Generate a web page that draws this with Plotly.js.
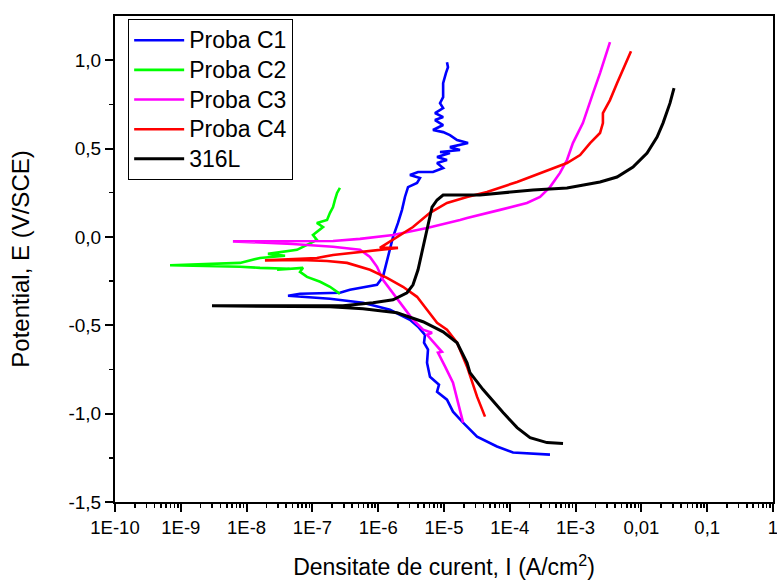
<!DOCTYPE html>
<html>
<head>
<meta charset="utf-8">
<script src="https://cdn.plot.ly/plotly-3.0.1.min.js"></script>
<style>html,body{margin:0;padding:0;background:#fff;}#chart{width:777px;height:581px;}</style>
</head>
<body>
<div id="chart"></div>
<script>
// Current density (A/cm2) and potential (V/SCE)
var c1_I = [4.08e-4,1.12e-4,6.38e-5,3.18e-5,1.95e-5,1.37e-5,1.11e-5,7.84e-6,8.4e-6,6.12e-6,5.52e-6,5.71e-6,4.97e-6,5.14e-6,4.03e-6,3.04e-6,1.51e-6,5.87e-7,1.85e-7,6.49e-8,4.26e-8,
  6.49e-8,2.62e-7,3.72e-7,9.6e-7,1.18e-6,1.36e-6,1.51e-6,1.68e-6,2.0e-6,2.3e-6,2.55e-6,2.84e-6,3.89e-6,4.31e-6,3.04e-6,4.03e-6,6.8e-6,9.7e-6,7.84e-6,1.11e-5,7.84e-6,1.23e-5,8.7e-6,1.75e-5,1.23e-5,2.32e-5,1.58e-5,1.23e-5,9.7e-6,6.8e-6,9.7e-6,7.3e-6,9.7e-6,7.3e-6,9.7e-6,8.7e-6,9.7e-6,9.7e-6,1.07e-5,1.15e-5,1.11e-5];
var c1_E = [-1.232,-1.220,-1.186,-1.130,-1.051,-0.989,-0.921,-0.876,-0.836,-0.791,-0.712,-0.638,-0.599,-0.554,-0.508,-0.469,-0.412,-0.373,-0.350,-0.339,-0.333,
  -0.322,-0.316,-0.299,-0.271,-0.226,-0.141,-0.073,0.0,0.079,0.153,0.226,0.282,0.305,0.333,0.350,0.367,0.367,0.390,0.418,0.435,0.452,0.475,0.480,0.492,0.508,0.531,0.548,0.576,0.593,0.605,0.633,0.661,0.678,0.701,0.729,0.757,0.791,0.870,0.927,0.960,0.989];

var c2_I = [2.62e-7,1.85e-7,1.31e-7,8.28e-8,6.49e-8,7.2e-8,2.9e-8,4.5e-8,1.6e-8,7.94e-9,6.86e-10,
  7.94e-9,1.6e-8,3.84e-8,2.11e-8,5.83e-8,8.28e-8,1.17e-7,1.02e-7,1.45e-7,1.17e-7,1.67e-7,1.85e-7,2.06e-7,2.2e-7,2.37e-7,2.62e-7];
var c2_E = [-0.322,-0.282,-0.254,-0.226,-0.198,-0.175,-0.186,-0.180,-0.175,-0.169,-0.160,
  -0.147,-0.119,-0.107,-0.096,-0.073,-0.045,-0.017,0.011,0.056,0.079,0.096,0.136,0.169,0.209,0.249,0.277];

var c3_I = [1.95e-5,1.63e-5,1.37e-5,1.04e-5,8.1e-6,9.3e-6,6.8e-6,5.52e-6,6.58e-6,4.8e-6,3.38e-6,2.38e-6,1.68e-6,1.18e-6,9.6e-7,7.5e-7,5.28e-7,2.06e-7,5.0e-8,6.2e-9,
  2.06e-7,5.28e-7,1.68e-6,5.52e-6,1.75e-5,2.24e-5,7.1e-5,1.82e-4,2.88e-4,4.08e-4,5.79e-4,7.4e-4,9.1e-4,1.29e-3,1.84e-3,2.35e-3,3.33e-3];
var c3_E = [-1.051,-0.938,-0.825,-0.734,-0.655,-0.650,-0.593,-0.554,-0.542,-0.525,-0.469,-0.395,-0.316,-0.243,-0.169,-0.113,-0.073,-0.056,-0.040,-0.025,
  -0.023,-0.011,0.011,0.051,0.096,0.107,0.153,0.192,0.226,0.282,0.362,0.435,0.531,0.644,0.814,0.927,1.102];

var c4_I = [4.2e-5,3.18e-5,2.24e-5,1.58e-5,1.11e-5,7.84e-6,5.52e-6,3.89e-6,2.38e-6,1.36e-6,7.5e-7,3.36e-7,1.67e-7,6.49e-8,1.9e-8,
  1.17e-7,2.06e-7,5.28e-7,2.0e-6,1.06e-6,1.68e-6,3.38e-6,6.12e-6,1.11e-5,2.24e-5,4.5e-5,1.29e-4,3.2e-4,7.4e-4,1.17e-3,1.66e-3,2.35e-3,2.6e-3,2.6e-3,3.33e-3,4.26e-3,5.25e-3,6.04e-3,6.95e-3];
var c4_E = [-1.017,-0.904,-0.734,-0.599,-0.525,-0.486,-0.412,-0.339,-0.282,-0.232,-0.186,-0.147,-0.136,-0.130,-0.133,
  -0.119,-0.102,-0.085,-0.062,-0.062,-0.017,0.056,0.136,0.192,0.226,0.254,0.311,0.367,0.418,0.463,0.531,0.588,0.644,0.701,0.774,0.870,0.944,1.000,1.051];

var l316_I = [6.44e-4,3.67e-4,2.03e-4,1.29e-4,7.9e-5,3.92e-5,2.48e-5,2.24e-5,1.58e-5,9.7e-6,4.8e-6,1.93e-6,5.87e-7,1.85e-7,2.98e-9,
  2.92e-7,8.34e-7,1.68e-6,2.74e-6,3.38e-6,4.03e-6,4.8e-6,5.71e-6,6.58e-6,7.84e-6,9.7e-6,3.52e-5,2.25e-4,7.4e-4,2.35e-3,4.26e-3,7.45e-3,1.22e-2,1.73e-2,2.13e-2,2.72e-2,3.13e-2];
var l316_E = [-1.169,-1.164,-1.136,-1.079,-0.994,-0.864,-0.768,-0.712,-0.599,-0.537,-0.480,-0.429,-0.407,-0.395,-0.390,
  -0.390,-0.373,-0.356,-0.316,-0.271,-0.186,-0.056,0.079,0.169,0.209,0.237,0.237,0.266,0.277,0.311,0.339,0.395,0.475,0.565,0.644,0.757,0.842];

var seriesNames = ["Proba C1","Proba C2","Proba C3","Proba C4","316L"];
var seriesColors = ["#0000ff","#00ff00","#ff00ff","#ff0000","#000000"];
var xTickVals = [1e-10,1e-9,1e-8,1e-7,1e-6,1e-5,1e-4,1e-3,1e-2,1e-1,1];
var xTickText = ["1E-10","1E-9","1E-8","1E-7","1E-6","1E-5","1E-4","1E-3","0,01","0,1","1"];
var yTickVals = [-1.5,-1.0,-0.5,0.0,0.5,1.0];
var yTickText = ["-1,5","-1,0","-0,5","0,0","0,5","1,0"];
var yMinorVals = [-1.25,-0.75,-0.25,0.25,0.75];

// minor tick positions on the log axis: 2..9 within each decade
var xMinorVals = [];
for (var d = -10; d < 0; d++) {
  for (var m = 2; m <= 9; m++) { xMinorVals.push(m * Math.pow(10, d)); }
}

var xs = [c1_I,c2_I,c3_I,c4_I,l316_I];
var ys = [c1_E,c2_E,c3_E,c4_E,l316_E];
var widths = [2.6,2.6,2.6,2.6,3];
var traces = xs.map(function(x,i){
  return {x:x, y:ys[i], type:'scatter', mode:'lines',
    name:'<span style="font-size:23px">' + seriesNames[i] + '</span>',
    line:{color:seriesColors[i], width:widths[i], shape:'linear'}};
});

var layout = {
  width:777, height:581,
  margin:{l:115, r:4, t:16, b:79},
  paper_bgcolor:'#ffffff', plot_bgcolor:'#ffffff',
  font:{family:'"Liberation Sans", Arial, sans-serif', color:'#000'},
  showlegend:true,
  legend:{x:0.02, y:0.993, xanchor:'left', yanchor:'top', bgcolor:'#ffffff',
    bordercolor:'#000', borderwidth:1, font:{family:'"Liberation Sans", Arial, sans-serif', size:20.5, color:'#000'},
    itemwidth:50, tracegroupgap:0},
  xaxis:{type:'log', range:[-10,0], tickmode:'array', tickvals:xTickVals, ticktext:xTickText,
    ticklabeloverflow:'allow',
    showline:true, linecolor:'#000', linewidth:2, mirror:true, showgrid:false, zeroline:false,
    ticks:'outside', ticklen:8, tickwidth:2, tickcolor:'#000',
    tickfont:{family:'"Liberation Sans", Arial, sans-serif', size:18.5, color:'#000'},
    minor:{ticks:'outside', ticklen:4, tickwidth:1.5, tickcolor:'#000', tickmode:'array', tickvals:xMinorVals, showgrid:false},
    title:{text:'Densitate de curent, I (A/cm<sup>2</sup>)', standoff:22,
      font:{family:'"Liberation Sans", Arial, sans-serif', size:23, color:'#000'}}},
  yaxis:{range:[-1.5,1.25], tickmode:'array', tickvals:yTickVals, ticktext:yTickText,
    showline:true, linecolor:'#000', linewidth:2, mirror:true, showgrid:false, zeroline:false,
    ticks:'outside', ticklen:8, tickwidth:2, tickcolor:'#000',
    tickfont:{family:'"Liberation Sans", Arial, sans-serif', size:19, color:'#000'},
    minor:{ticks:'outside', ticklen:4, tickwidth:1.5, tickcolor:'#000', tickmode:'array', tickvals:yMinorVals, showgrid:false},
    title:{text:'Potential, E (V/SCE)', standoff:32,
      font:{family:'"Liberation Sans", Arial, sans-serif', size:24, color:'#000'}}}
};

Plotly.newPlot('chart', traces, layout, {staticPlot:true, displayModeBar:false});
</script>
</body>
</html>
